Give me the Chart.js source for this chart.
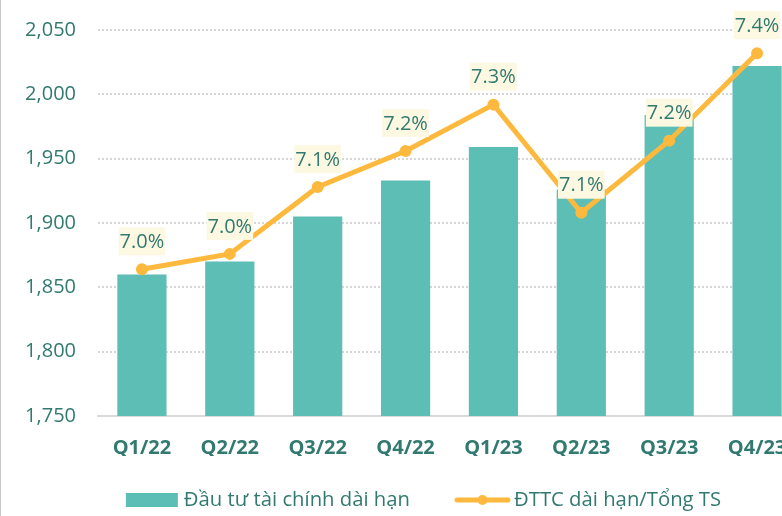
<!DOCTYPE html>
<html><head><meta charset="utf-8">
<script src="https://cdn.jsdelivr.net/npm/chart.js@4.4.0/dist/chart.umd.min.js"></script>
<style>
html,body{margin:0;padding:0;background:#fff;overflow:hidden;}
#wrap{position:relative;width:782px;height:516px;overflow:hidden;border-left:1px solid #c6c6c6;box-sizing:border-box;}
#c{position:absolute;left:0;top:0;}
</style></head><body>
<div id="wrap"><canvas id="c" width="810" height="516"></canvas></div>
<script>
const categories = ['Q1/22','Q2/22','Q3/22','Q4/22','Q1/23','Q2/23','Q3/23','Q4/23'];
const investValues = [1860, 1870, 1905, 1933, 1959, 1926, 1984, 2022];
const ratioValues = [6.97, 7.00, 7.13, 7.20, 7.29, 7.08, 7.22, 7.39];
const yTicks = [1750, 1800, 1850, 1900, 1950, 2000, 2050];
const seriesNames = ['Đầu tư tài chính dài hạn', 'ĐTTC dài hạn/Tổng TS'];

const FONT = '"Open Sans", "Noto Sans", sans-serif';
const textColor = '#327a70';
const barColor = '#5cbeb5';
const lineColor = '#fdb93e';
const labelBg = '#fdf8e2';

const labelPlugin = {
  id: 'ratioLabels',
  afterDatasetsDraw(chart) {
    const meta = chart.getDatasetMeta(1);
    const ctx = chart.ctx;
    ctx.save();
    ctx.font = '20px ' + FONT;
    ctx.textAlign = 'center';
    ctx.textBaseline = 'middle';
    meta.data.forEach((pt, i) => {
      const txt = ratioValues[i].toFixed(1) + '%';
      const w = ctx.measureText(txt).width + 2;
      const h = 28;
      const cx = pt.x, cy = pt.y - 28;
      ctx.fillStyle = labelBg;
      ctx.fillRect(cx - w / 2, cy - h / 2, w, h);
      ctx.fillStyle = textColor;
      ctx.fillText(txt, cx, cy + 1);
    });
    ctx.restore();
  }
};

const legendPlugin = {
  id: 'customLegend',
  afterDraw(chart) {
    const ctx = chart.ctx;
    ctx.save();
    ctx.font = '20.3px ' + FONT;
    const tw1 = ctx.measureText(seriesNames[0]).width;
    const tw2 = ctx.measureText(seriesNames[1]).width;
    const boxW = 52, lineW = 55, gapText = 6, gapItem = 45;
    const total = boxW + gapText + tw1 + gapItem + lineW + 4 + tw2;
    const centerX = 422.5;
    const y = 500;
    let x = centerX - total / 2;
    ctx.fillStyle = barColor;
    ctx.fillRect(x, y - 7, boxW, 14);
    x += boxW + gapText;
    ctx.fillStyle = textColor;
    ctx.textAlign = 'left';
    ctx.textBaseline = 'middle';
    ctx.fillText(seriesNames[0], x, y);
    x += tw1 + gapItem;
    ctx.strokeStyle = lineColor;
    ctx.lineWidth = 5;
    ctx.lineCap = 'round';
    ctx.beginPath();
    ctx.moveTo(x + 2, y);
    ctx.lineTo(x + lineW - 2, y);
    ctx.stroke();
    ctx.fillStyle = lineColor;
    ctx.beginPath();
    ctx.arc(x + lineW / 2, y, 5, 0, Math.PI * 2);
    ctx.fill();
    x += lineW + 4;
    ctx.fillStyle = textColor;
    ctx.fillText(seriesNames[1], x, y);
    ctx.restore();
  }
};

new Chart(document.getElementById('c'), {
  data: {
    labels: categories,
    datasets: [
      {
        type: 'bar',
        label: seriesNames[0],
        data: investValues,
        backgroundColor: barColor,
        borderWidth: 0,
        categoryPercentage: 1,
        barPercentage: 0.56,
        yAxisID: 'y',
        order: 2
      },
      {
        type: 'line',
        label: seriesNames[1],
        data: ratioValues,
        borderColor: lineColor,
        backgroundColor: lineColor,
        borderWidth: 5,
        pointRadius: 6,
        pointBackgroundColor: lineColor,
        pointBorderWidth: 0,
        tension: 0,
        yAxisID: 'y2',
        order: 1
      }
    ]
  },
  options: {
    responsive: false,
    animation: false,
    devicePixelRatio: 1,
    layout: { autoPadding: false, padding: { left: 0, right: 10, top: 30, bottom: 60 } },
    plugins: { legend: { display: false }, tooltip: { enabled: false } },
    scales: {
      x: {
        offset: true,
        grid: { display: false, drawTicks: false },
        border: { display: true, color: '#d9d9d9', width: 2 },
        ticks: {
          color: textColor,
          font: { family: FONT, size: 20, weight: 'bold' },
          padding: 20,
          maxRotation: 0
        },
        afterFit(scale) { scale.height = 40; }
      },
      y: {
        min: yTicks[0],
        max: yTicks[yTicks.length - 1],
        afterBuildTicks(scale) { scale.ticks = yTicks.map(v => ({ value: v })); },
        grid: { color: '#d6d6d6', lineWidth: 2, drawTicks: false },
        border: { display: false, dash: [2, 2] },
        ticks: {
          color: textColor,
          font: { family: FONT, size: 20 },
          padding: 22,
          callback: v => Number(v).toLocaleString('en-US')
        },
        afterFit(scale) {
          scale.width = 97;
          scale.paddingTop = 14;
          scale.paddingBottom = 0;
        }
      },
      y2: {
        display: false,
        min: 6.685,
        max: 7.435
      }
    }
  },
  plugins: [labelPlugin, legendPlugin]
});
</script>
</body></html>
